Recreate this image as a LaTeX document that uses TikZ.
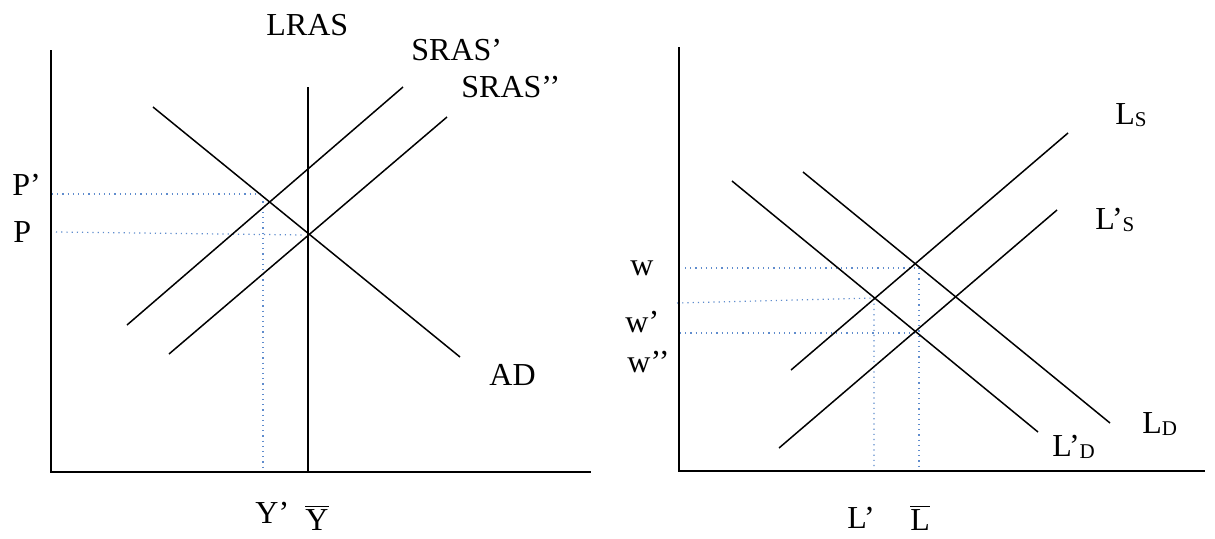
\documentclass[tikz,border=0pt]{standalone}
\usepackage{fontspec}
\setmainfont{Liberation Serif}
\definecolor{guideblue}{RGB}{95,140,205}
\begin{document}
\begin{tikzpicture}[x=0.5pt,y=-0.5pt,
  curve/.style={black,line width=0.75pt},
  axisline/.style={black,line width=1pt},
  guide/.style={guideblue,dotted,line width=0.6pt},
  lab/.style={anchor=base west,inner sep=0pt,font=\fontsize{16}{18}\selectfont}]
\path[use as bounding box,fill=white] (0,0) rectangle (1215,538);
% ---------- left panel ----------
\coordinate (oL) at (51,472);
\coordinate (yLtop) at (51,50);
\coordinate (xLend) at (591,472);
\coordinate (lrasT) at (308,87);
\coordinate (lrasB) at (308,472);
\coordinate (adA) at (153,107);
\coordinate (adB) at (460,357);
\coordinate (s1A) at (127,325);
\coordinate (s1B) at (403,87);
\coordinate (s2A) at (169,354);
\coordinate (s2B) at (447,117);
\coordinate (pp0) at (52,194);
\coordinate (pp1) at (263,194);
\coordinate (ypB) at (263,470);
\coordinate (p0) at (56,232);
\coordinate (p1) at (305,235);
\draw[guide] (pp0) -- (pp1) -- (ypB);
\draw[guide] (p0) -- (p1);
\draw[axisline] (yLtop) -- (oL) -- (xLend);
\draw[curve] (lrasT) -- (lrasB);
\draw[curve] (adA) -- (adB);
\draw[curve] (s1A) -- (s1B);
\draw[curve] (s2A) -- (s2B);
\node[lab] (tLRAS) at (266,35) {LRAS};
\node[lab] (tS1) at (411,60) {SRAS’};
\node[lab] (tS2) at (461,97) {SRAS’’};
\node[lab] (tAD) at (489,385) {AD};
\node[lab] (tPp) at (12,195) {P’};
\node[lab] (tP) at (13,242) {P};
\node[lab] (tYp) at (255,523) {Y’};
\node[lab] (tYb) at (305,530) {$\overline{\hbox{Y}}$};
% ---------- right panel ----------
\coordinate (oR) at (679,471);
\coordinate (yRtop) at (679,47);
\coordinate (xRend) at (1205,471);
\coordinate (lsA) at (791,370);
\coordinate (lsB) at (1068,133);
\coordinate (ls2A) at (779,448);
\coordinate (ls2B) at (1057,210);
\coordinate (ldA) at (803,172);
\coordinate (ldB) at (1110,423);
\coordinate (ld2A) at (732,181);
\coordinate (ld2B) at (1038,432);
\coordinate (w0) at (685,268);
\coordinate (w1) at (919,268);
\coordinate (lbB) at (919,472);
\coordinate (wp0) at (677,303);
\coordinate (wp1) at (874,298);
\coordinate (lpB) at (874,467);
\coordinate (wpp0) at (680,333);
\coordinate (wpp1) at (918,333);
\draw[guide] (w0) -- (w1) -- (lbB);
\draw[guide] (wp0) -- (wp1) -- (lpB);
\draw[guide] (wpp0) -- (wpp1);
\draw[axisline] (yRtop) -- (oR) -- (xRend);
\draw[curve] (lsA) -- (lsB);
\draw[curve] (ls2A) -- (ls2B);
\draw[curve] (ldA) -- (ldB);
\draw[curve] (ld2A) -- (ld2B);
\newcommand{\subsc}[1]{\raisebox{-1.3pt}{\fontsize{10.5}{12}\selectfont #1}}
\node[lab] (tw) at (630,275) {w};
\node[lab] (twp) at (625,332) {w’};
\node[lab] (twpp) at (627,372) {w’’};
\node[lab] (tLS) at (1115,124) {L\subsc{S}};
\node[lab] (tLpS) at (1095,229) {L’\subsc{S}};
\node[lab] (tLD) at (1142,433) {L\subsc{D}};
\node[lab] (tLpD) at (1052,456) {L’\subsc{D}};
\node[lab] (tLp) at (847,528) {L’};
\node[lab] (tLb) at (910,530) {$\overline{\hbox{L}}$};
\end{tikzpicture}
\end{document}
